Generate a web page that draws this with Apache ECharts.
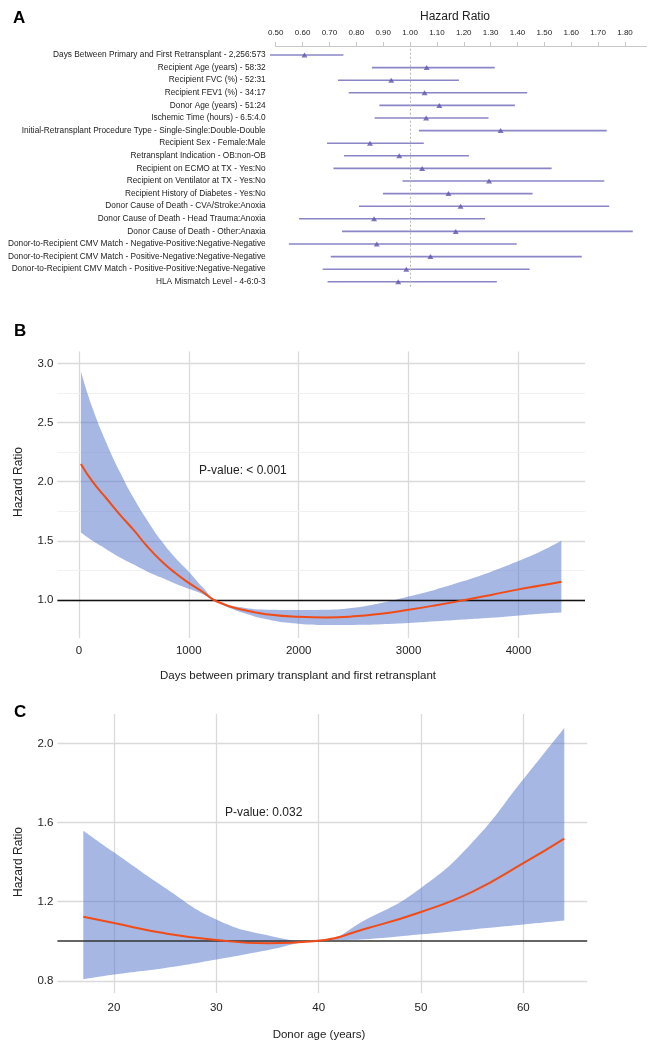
<!DOCTYPE html>
<html><head><meta charset="utf-8">
<script src="https://cdn.jsdelivr.net/npm/echarts@6/dist/echarts.min.js"></script>
<style>html,body{margin:0;padding:0;background:#fff}#c{width:657px;height:1050px}</style>
</head><body><div id="c"></div>
<script>
// ---------- Panel A: forest plot ----------
const forestLabels = [
  'Days Between Primary and First Retransplant - 2,256:573',
  'Recipient Age (years) - 58:32',
  'Recipient FVC (%) - 52:31',
  'Recipient FEV1 (%) - 34:17',
  'Donor Age (years) - 51:24',
  'Ischemic Time (hours) - 6.5:4.0',
  'Initial-Retransplant Procedure Type - Single-Single:Double-Double',
  'Recipient Sex - Female:Male',
  'Retransplant Indication - OB:non-OB',
  'Recipient on ECMO at TX - Yes:No',
  'Recipient on Ventilator at TX - Yes:No',
  'Recipient History of Diabetes - Yes:No',
  'Donor Cause of Death - CVA/Stroke:Anoxia',
  'Donor Cause of Death - Head Trauma:Anoxia',
  'Donor Cause of Death - Other:Anaxia',
  'Donor-to-Recipient CMV Match - Negative-Positive:Negative-Negative',
  'Donor-to-Recipient CMV Match - Positive-Negative:Negative-Negative',
  'Donor-to-Recipient CMV Match - Positive-Positive:Negative-Negative',
  'HLA Mismatch Level - 4-6:0-3'
];
const forestHR    = [0.607, 1.062, 0.930, 1.054, 1.109, 1.060, 1.337, 0.851, 0.960, 1.045, 1.294, 1.143, 1.188, 0.866, 1.170, 0.876, 1.076, 0.986, 0.956];
const forestLower = [0.479, 0.858, 0.732, 0.772, 0.886, 0.868, 1.033, 0.691, 0.754, 0.715, 0.972, 0.899, 0.810, 0.587, 0.747, 0.549, 0.705, 0.675, 0.693];
const forestUpper = [0.752, 1.315, 1.182, 1.436, 1.390, 1.292, 1.732, 1.051, 1.219, 1.527, 1.723, 1.456, 1.741, 1.279, 1.829, 1.397, 1.639, 1.445, 1.323];
const forestTicks = [0.5, 0.6, 0.7, 0.8, 0.9, 1.0, 1.1, 1.2, 1.3, 1.4, 1.5, 1.6, 1.7, 1.8];

// ---------- Panel B: days between transplants ----------
const daysX     = [19, 125, 250, 375, 500, 625, 750, 875, 1000, 1125, 1250, 1500, 1750, 2000, 2250, 2500, 2750, 3000, 3250, 3500, 3750, 4000, 4200, 4390];
const daysHR    = [2.15, 2.00, 1.86, 1.72, 1.59, 1.45, 1.33, 1.23, 1.145, 1.07, 0.99, 0.915, 0.875, 0.858, 0.853, 0.862, 0.885, 0.918, 0.956, 0.998, 1.043, 1.09, 1.122, 1.155];
const daysUpper = [2.93, 2.62, 2.33, 2.08, 1.86, 1.67, 1.50, 1.36, 1.24, 1.11, 1.00, 0.935, 0.918, 0.915, 0.918, 0.935, 0.975, 1.03, 1.09, 1.16, 1.24, 1.33, 1.41, 1.50];
const daysLower = [1.57, 1.50, 1.43, 1.36, 1.30, 1.24, 1.19, 1.14, 1.095, 1.05, 0.985, 0.89, 0.83, 0.80, 0.79, 0.79, 0.795, 0.805, 0.82, 0.835, 0.85, 0.87, 0.885, 0.895];
const daysTicks = [0, 1000, 2000, 3000, 4000];
const daysHRTicks = [1.0, 1.5, 2.0, 2.5, 3.0];
const daysMinor = [1.25, 1.75, 2.25, 2.75];

// ---------- Panel C: donor age ----------
const ageX     = [17, 20, 25, 30, 35, 39.5, 45, 50, 55, 60, 64];
const ageHR    = [1.124, 1.092, 1.04, 1.006, 0.99, 1.0, 1.07, 1.148, 1.25, 1.395, 1.52];
const ageUpper = [1.56, 1.45, 1.27, 1.11, 1.03, 1.0, 1.12, 1.27, 1.50, 1.82, 2.08];
const ageLower = [0.808, 0.832, 0.865, 0.908, 0.955, 1.0, 1.012, 1.035, 1.06, 1.085, 1.105];
const ageTicks = [20, 30, 40, 50, 60];
const ageHRTicks = [0.8, 1.2, 1.6, 2.0];

const FONT = '"Liberation Sans", Arial, sans-serif';
const TXT = '#222';
const GRIDC = '#dadada';
const BAND = 'rgba(78,112,200,0.5)';
const ORANGE = '#f14b17';
const SM = 0.5;

const chart = echarts.init(document.getElementById('c'));
function pairs(xs, ys) { return xs.map((x, i) => [x, ys[i]]); }
// value first, x second (so that the stack applies to the value dimension)
function yFirst(xs, ys) { return xs.map((x, i) => [ys[i], x]); }
function diffsYFirst(xs, up, lo) { return xs.map((x, i) => [+(up[i] - lo[i]).toFixed(4), x]); }

const option = {
  animation: false,
  backgroundColor: '#fff',
  textStyle: { fontFamily: FONT },
  grid: [
    { left: 275.7, top: 48.7, width: 370.8, height: 239.4 },
    { left: 57.4, top: 351.5, width: 527.6, height: 286.4 },
    { left: 57.4, top: 714.1, width: 529.8, height: 278.9 }
  ],
  xAxis: [
    {
      gridIndex: 0, type: 'value', position: 'top', offset: 2.7,
      min: 0.5, max: 1.88, interval: 0.1,
      axisLine: { show: true, lineStyle: { color: '#c8c8c8', width: 1 } },
      axisTick: { show: true, length: 4, customValues: forestTicks, lineStyle: { color: '#c8c8c8' } },
      axisLabel: { customValues: forestTicks, formatter: v => v.toFixed(2), fontSize: 8, color: TXT, margin: 9, fontFamily: FONT },
      splitLine: { show: false }
    },
    {
      gridIndex: 1, type: 'value', min: -195, max: 4605, minInterval: 1000, maxInterval: 1000,
      axisLine: { show: false }, axisTick: { show: false },
      axisLabel: { customValues: daysTicks, formatter: v => String(v), fontSize: 11.5, color: TXT, margin: 7, fontFamily: FONT },
      splitLine: { show: true, showMinLine: false, showMaxLine: false, lineStyle: { color: GRIDC, width: 1.3 } }
    },
    {
      gridIndex: 2, type: 'value', min: 14.47, max: 66.24, minInterval: 10, maxInterval: 10,
      axisLine: { show: false }, axisTick: { show: false },
      axisLabel: { customValues: ageTicks, fontSize: 11.5, color: TXT, margin: 9, fontFamily: FONT },
      splitLine: { show: true, showMinLine: false, showMaxLine: false, lineStyle: { color: GRIDC, width: 1.3 } }
    }
  ],
  yAxis: [
    {
      gridIndex: 0, type: 'category', data: forestLabels, inverse: true,
      axisLine: { show: false }, axisTick: { show: false },
      axisLabel: { fontSize: 8.3, color: TXT, margin: 10, fontFamily: FONT },
      splitLine: { show: false }
    },
    {
      gridIndex: 1, type: 'value', min: 0.68, max: 3.1, minInterval: 0.5, maxInterval: 0.5,
      axisLine: { show: false }, axisTick: { show: false },
      axisLabel: { customValues: daysHRTicks, formatter: v => v.toFixed(1), fontSize: 11.5, color: TXT, margin: 4, fontFamily: FONT },
      splitLine: { show: true, showMinLine: false, showMaxLine: false, lineStyle: { color: GRIDC, width: 1.3 } }
    },
    {
      gridIndex: 2, type: 'value', min: 0.738, max: 2.15, minInterval: 0.4, maxInterval: 0.4,
      axisLine: { show: false }, axisTick: { show: false },
      axisLabel: { customValues: ageHRTicks, formatter: v => v.toFixed(1), fontSize: 11.5, color: TXT, margin: 4, fontFamily: FONT },
      splitLine: { show: true, showMinLine: false, showMaxLine: false, lineStyle: { color: GRIDC, width: 1.3 } }
    }
  ],
  graphic: [
    { type: 'text', left: 13, top: 10, style: { text: 'A', font: 'bold 17px ' + FONT, fill: '#000' } },
    { type: 'text', x: 455, y: 17, style: { text: 'Hazard Ratio', font: '12px ' + FONT, fill: TXT, align: 'center', verticalAlign: 'middle' } },
    { type: 'text', left: 14, top: 323, style: { text: 'B', font: 'bold 17px ' + FONT, fill: '#000' } },
    { type: 'text', x: 19, y: 482, rotation: Math.PI / 2, style: { text: 'Hazard Ratio', font: '12px ' + FONT, fill: TXT, align: 'center', verticalAlign: 'middle' } },
    { type: 'text', x: 199, y: 471, style: { text: 'P-value: < 0.001', font: '12px ' + FONT, fill: TXT, align: 'left', verticalAlign: 'middle' } },
    { type: 'text', x: 298, y: 676, style: { text: 'Days between primary transplant and first retransplant', font: '11.5px ' + FONT, fill: TXT, align: 'center', verticalAlign: 'middle' } },
    { type: 'text', left: 14, top: 704, style: { text: 'C', font: 'bold 17px ' + FONT, fill: '#000' } },
    { type: 'text', x: 19, y: 862, rotation: Math.PI / 2, style: { text: 'Hazard Ratio', font: '12px ' + FONT, fill: TXT, align: 'center', verticalAlign: 'middle' } },
    { type: 'text', x: 225, y: 813, style: { text: 'P-value: 0.032', font: '12px ' + FONT, fill: TXT, align: 'left', verticalAlign: 'middle' } },
    { type: 'text', x: 319, y: 1035, style: { text: 'Donor age (years)', font: '11.5px ' + FONT, fill: TXT, align: 'center', verticalAlign: 'middle' } }
  ],
  series: [
    { type: 'custom', xAxisIndex: 0, yAxisIndex: 0,
      data: forestLabels.map((l, i) => [forestLower[i], forestUpper[i], i]),
      encode: { x: [0, 1], y: 2 },
      renderItem: function (params, api) {
        const y = api.value(2);
        const p1 = api.coord([api.value(0), y]);
        const p2 = api.coord([api.value(1), y]);
        return { type: 'line', shape: { x1: p1[0], y1: p1[1], x2: p2[0], y2: p2[1] }, style: { stroke: '#8a85c7', lineWidth: 1.6 } };
      }, z: 2 },
    { type: 'line', xAxisIndex: 0, yAxisIndex: 0, data: [],
      markLine: { silent: true, symbol: 'none', label: { show: false }, lineStyle: { color: '#b5b5b5', type: [2, 2], width: 1 }, data: [{ xAxis: 1 }] } },
    { type: 'scatter', xAxisIndex: 0, yAxisIndex: 0,
      data: forestLabels.map((l, i) => [forestHR[i], i]),
      symbol: 'triangle', symbolSize: [6, 5], itemStyle: { color: '#5d55aa' }, z: 3 },
    // B band
    { type: 'line', xAxisIndex: 1, yAxisIndex: 1, stack: 'bandB', smooth: SM,
      data: yFirst(daysX, daysLower), encode: { x: 1, y: 0 }, symbol: 'none', lineStyle: { opacity: 0 }, z: 2,
      markLine: { silent: true, symbol: 'none', label: { show: false }, z: 1, lineStyle: { color: '#f1f1f1', type: 'solid', width: 1.2 }, data: daysMinor.map(v => ({ yAxis: v })) } },
    { type: 'line', xAxisIndex: 1, yAxisIndex: 1, stack: 'bandB', smooth: SM,
      data: diffsYFirst(daysX, daysUpper, daysLower), encode: { x: 1, y: 0 }, symbol: 'none', lineStyle: { opacity: 0 },
      areaStyle: { color: BAND, opacity: 1 }, z: 3,
      markLine: { silent: true, symbol: 'none', label: { show: false }, z: 4, lineStyle: { color: '#111', type: 'solid', width: 1.4 }, data: [{ yAxis: 1 }] } },
    { type: 'line', xAxisIndex: 1, yAxisIndex: 1, smooth: SM,
      data: pairs(daysX, daysHR), symbol: 'none', lineStyle: { color: ORANGE, width: 2 }, z: 6 },
    // C band
    { type: 'line', xAxisIndex: 2, yAxisIndex: 2, stack: 'bandC', smooth: SM,
      data: yFirst(ageX, ageLower), encode: { x: 1, y: 0 }, symbol: 'none', lineStyle: { opacity: 0 }, z: 2 },
    { type: 'line', xAxisIndex: 2, yAxisIndex: 2, stack: 'bandC', smooth: SM,
      data: diffsYFirst(ageX, ageUpper, ageLower), encode: { x: 1, y: 0 }, symbol: 'none', lineStyle: { opacity: 0 },
      areaStyle: { color: BAND, opacity: 1 }, z: 3,
      markLine: { silent: true, symbol: 'none', label: { show: false }, z: 4, lineStyle: { color: '#333', type: 'solid', width: 1.6 }, data: [{ yAxis: 1 }] } },
    { type: 'line', xAxisIndex: 2, yAxisIndex: 2, smooth: SM,
      data: pairs(ageX, ageHR), symbol: 'none', lineStyle: { color: ORANGE, width: 2 }, z: 6 }
  ]
};
chart.setOption(option);
</script>
</body></html>
